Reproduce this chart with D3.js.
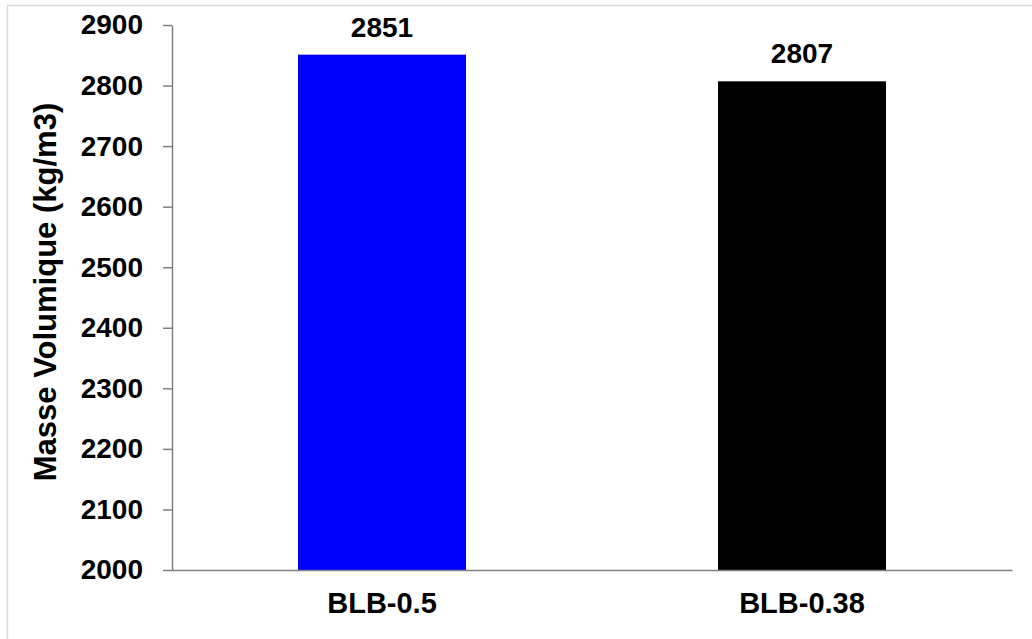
<!DOCTYPE html>
<html>
<head>
<meta charset="utf-8">
<script src="https://cdn.jsdelivr.net/npm/d3@7"></script>
<style>
  html, body { margin: 0; padding: 0; background: #fff; }
  svg { display: block; }
  text { font-family: "Liberation Sans", Arial, sans-serif; font-weight: bold; fill: #000; }
</style>
</head>
<body>
<svg id="chart" width="1032" height="639"></svg>
<script>
// Bulk density of the two mixes
const categories = ["BLB-0.5", "BLB-0.38"];
const values = [2851, 2807];
const colors = ["#0000ff", "#000000"];
const yTicks = [2000, 2100, 2200, 2300, 2400, 2500, 2600, 2700, 2800, 2900];
const yTitle = "Masse Volumique (kg/m3)";

const svg = d3.select("#chart");
const W = 1032, H = 639;
const plot = { left: 172, right: 1012, top: 25, bottom: 570 };

// outer frame (only top and left edges fall inside the view)
svg.append("rect")
  .attr("x", 7.5).attr("y", 5.5)
  .attr("width", W + 20).attr("height", H + 20)
  .attr("fill", "#fff").attr("stroke", "#d9d9d9").attr("stroke-width", 1.5);

const x = d3.scaleBand()
  .domain(categories)
  .range([plot.left, plot.right])
  .paddingInner(0.6)
  .paddingOuter(0.3);

const y = d3.scaleLinear()
  .domain([2000, 2900])
  .range([plot.bottom, plot.top]);

// bars
svg.append("g").selectAll("rect")
  .data(categories)
  .join("rect")
  .attr("x", d => x(d))
  .attr("width", x.bandwidth())
  .attr("y", (d, i) => y(values[i]))
  .attr("height", (d, i) => y(2000) - y(values[i]))
  .attr("fill", (d, i) => colors[i]);

// value labels
svg.append("g").selectAll("text")
  .data(categories)
  .join("text")
  .attr("x", d => x(d) + x.bandwidth() / 2)
  .attr("y", (d, i) => y(values[i]) - 18)
  .attr("text-anchor", "middle")
  .style("font-size", "28px")
  .text((d, i) => values[i]);

// y axis
const yAxis = svg.append("g")
  .attr("transform", `translate(${plot.left},0)`)
  .call(d3.axisLeft(y).tickValues(yTicks).tickFormat(d3.format("d"))
    .tickSize(9).tickPadding(20).tickSizeOuter(0));
yAxis.select(".domain").attr("stroke", "#7f7f7f").attr("stroke-width", 1.5);
yAxis.selectAll(".tick line").attr("stroke", "#7f7f7f").attr("stroke-width", 1.5);
yAxis.selectAll(".tick text")
  .style("font-size", "28px")
  .style("font-family", "'Liberation Sans', Arial, sans-serif")
  .style("font-weight", "bold")
  .attr("fill", "#000");

// x axis
const xAxis = svg.append("g")
  .attr("transform", `translate(0,${plot.bottom})`)
  .call(d3.axisBottom(x).tickSize(0).tickPadding(22).tickSizeOuter(0));
xAxis.select(".domain").attr("stroke", "#7f7f7f").attr("stroke-width", 1.5);
xAxis.selectAll(".tick text")
  .style("font-size", "29px")
  .style("font-family", "'Liberation Sans', Arial, sans-serif")
  .style("font-weight", "bold")
  .attr("fill", "#000");

// y axis title
svg.append("text")
  .attr("transform", `translate(56,292) rotate(-90)`)
  .attr("text-anchor", "middle")
  .style("font-size", "31px")
  .text(yTitle);
</script>
</body>
</html>
